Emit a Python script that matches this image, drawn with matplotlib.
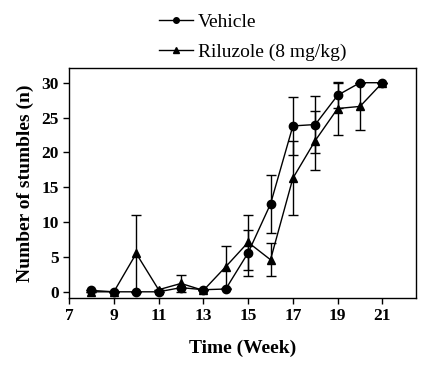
import matplotlib
matplotlib.use('Agg')
import matplotlib.pyplot as plt
from matplotlib.lines import Line2D

plt.rcParams['font.family'] = ['Liberation Serif', 'DejaVu Serif']

# weeks
weeks = [8, 9, 10, 11, 12, 13, 14, 15, 16, 17, 18, 19, 20, 21]

# Vehicle: mean and error
vehicle = [0.2, 0.0, 0.0, 0.0, 0.6, 0.3, 0.4, 5.6, 12.6, 23.8, 24.0, 28.2, 30.0, 30.0]
vehicle_err = [0.0, 0.0, 0.0, 0.0, 0.0, 0.0, 0.0, 3.3, 4.2, 4.2, 4.1, 1.8, 0.0, 0.0]

# Riluzole (8 mg/kg): mean and error
riluzole = [0.0, 0.0, 5.5, 0.3, 1.2, 0.2, 3.6, 7.1, 4.6, 16.3, 21.7, 26.3, 26.6, 30.0]
riluzole_err = [0.0, 0.0, 5.5, 0.0, 1.2, 0.0, 3.0, 3.9, 2.4, 5.3, 4.2, 3.8, 3.4, 0.0]

xticks = [7, 9, 11, 13, 15, 17, 19, 21]
yticks = [0, 5, 10, 15, 20, 25, 30]

fig = plt.figure(figsize=(4.43, 3.68), dpi=100)
ax = fig.add_axes([0.156, 0.19, 0.783, 0.625])

ax.errorbar(weeks, vehicle, yerr=vehicle_err, color='black', marker='o',
            markersize=6, linewidth=1, elinewidth=1, capsize=3.5, capthick=1)
ax.errorbar(weeks, riluzole, yerr=riluzole_err, color='black', marker='^',
            markersize=6, linewidth=1, elinewidth=1, capsize=3.5, capthick=1)

ax.set_xlim(7, 22.5)
ax.set_ylim(-0.9, 32.1)
ax.set_xticks(xticks)
ax.set_yticks(yticks)
ax.tick_params(direction='out', length=4, width=1, labelsize=12.5)
for lbl in ax.get_xticklabels() + ax.get_yticklabels():
    lbl.set_fontweight('bold')
for sp in ax.spines.values():
    sp.set_linewidth(1)

ax.set_xlabel('Time (Week)', fontsize=14, fontweight='bold', labelpad=11)
ax.set_ylabel('Number of stumbles (n)', fontsize=14, fontweight='bold', labelpad=5)

handles = [
    Line2D([], [], color='black', marker='o', markersize=4, linewidth=1),
    Line2D([], [], color='black', marker='^', markersize=4, linewidth=1),
]
fig.legend(handles, ['Vehicle', 'Riluzole (8 mg/kg)'], loc='upper left',
           bbox_to_anchor=(0.329, 1.0), frameon=False, fontsize=14,
           handlelength=1.75, handletextpad=0.25, labelspacing=0.6,
           borderaxespad=0.3)

plt.savefig('out.png', dpi=100)
plt.close()
